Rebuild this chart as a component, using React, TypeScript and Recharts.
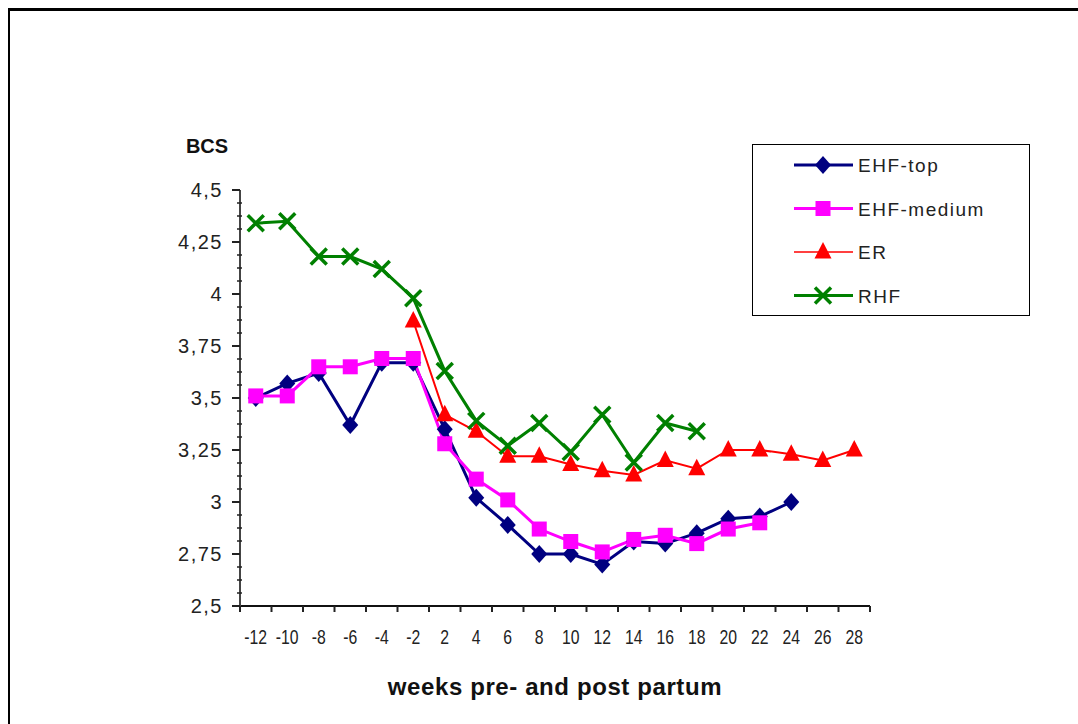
import React from 'react';
import { LineChart, Line, XAxis, YAxis, Legend } from 'recharts';

// weeks before / after calving (no week 0)
const weeks = ['-12', '-10', '-8', '-6', '-4', '-2', '2', '4', '6', '8', '10', '12', '14', '16', '18', '20', '22', '24', '26', '28'];

const ehfTop = [3.5, 3.57, 3.62, 3.37, 3.67, 3.67, 3.35, 3.02, 2.89, 2.75, 2.75, 2.7, 2.81, 2.8, 2.85, 2.92, 2.93, 3.0, null, null];
const ehfMedium = [3.51, 3.51, 3.65, 3.65, 3.69, 3.69, 3.28, 3.11, 3.01, 2.87, 2.81, 2.76, 2.82, 2.84, 2.8, 2.87, 2.9, null, null, null];
const er = [null, null, null, null, null, 3.87, 3.42, 3.34, 3.22, 3.22, 3.18, 3.15, 3.13, 3.2, 3.16, 3.25, 3.25, 3.23, 3.2, 3.25];
const rhf = [4.34, 4.35, 4.18, 4.18, 4.12, 3.98, 3.63, 3.39, 3.27, 3.38, 3.24, 3.42, 3.19, 3.38, 3.34, null, null, null, null, null];

const yMajorTicks = [2.5, 2.75, 3, 3.25, 3.5, 3.75, 4, 4.25, 4.5];
// minor ticks: 4 per major step
const yTicks: number[] = [];
yMajorTicks.forEach((t, i) => {
  yTicks.push(t);
  if (i < yMajorTicks.length - 1) {
    for (let k = 1; k < 4; k++) yTicks.push(t + k * 0.0625);
  }
});

const data = weeks.map((week, i) => ({
  week,
  ehfTop: ehfTop[i],
  ehfMedium: ehfMedium[i],
  er: er[i],
  rhf: rhf[i],
}));

const NAVY = '#000080';
const MAGENTA = '#FF00FF';
const RED = '#FF0000';
const GREEN = '#008000';
const FONT = "'Liberation Sans', Arial, sans-serif";

const CHART_W = 1068;
const CHART_H = 713;
const MARGIN = { top: 179, right: 208, bottom: 88, left: 170 };
const Y_AXIS_W = 60;
const X_AXIS_H = 30;
const PLOT_LEFT = MARGIN.left + Y_AXIS_W;
const PLOT_RIGHT = CHART_W - MARGIN.right;
const PLOT_BOTTOM = CHART_H - MARGIN.bottom - X_AXIS_H;
const HALF_BAND = (PLOT_RIGHT - PLOT_LEFT) / weeks.length / 2;

type ShapeProps = { cx: number; cy: number; color: string };

const Diamond = ({ cx, cy, color }: ShapeProps) => (
  <polygon
    points={`${cx},${cy - 9} ${cx + 8},${cy} ${cx},${cy + 9} ${cx - 8},${cy}`}
    fill={color}
  />
);

const Square = ({ cx, cy, color }: ShapeProps) => (
  <rect x={cx - 7.5} y={cy - 7.5} width={15} height={15} fill={color} />
);

const Triangle = ({ cx, cy, color }: ShapeProps) => (
  <polygon
    points={`${cx},${cy - 10} ${cx + 8.5},${cy + 6.5} ${cx - 8.5},${cy + 6.5}`}
    fill={color}
  />
);

const Cross = ({ cx, cy, color }: ShapeProps) => (
  <path
    d={`M${cx - 8},${cy - 8}L${cx + 8},${cy + 8}M${cx + 8},${cy - 8}L${cx - 8},${cy + 8}`}
    stroke={color}
    strokeWidth={3.5}
    fill="none"
  />
);

const makeDot = (Shape: (p: ShapeProps) => React.ReactElement, color: string) =>
  (props: any) => {
    const { cx, cy, index } = props;
    if (cx == null || cy == null || Number.isNaN(cy)) return <g key={`e-${index}`} />;
    return (
      <g key={`d-${index}`}>
        <Shape cx={cx} cy={cy} color={color} />
      </g>
    );
  };

const legendItems = [
  { name: 'EHF-top', color: NAVY, Shape: Diamond, width: 3 },
  { name: 'EHF-medium', color: MAGENTA, Shape: Square, width: 3 },
  { name: 'ER', color: RED, Shape: Triangle, width: 1.5 },
  { name: 'RHF', color: GREEN, Shape: Cross, width: 3 },
];

function LegendBox() {
  return (
    <div
      style={{
        width: 278,
        height: 172,
        border: '1.5px solid #000',
        boxSizing: 'border-box',
        background: '#fff',
      }}
    >
      <svg width={275} height={169} style={{ display: 'block' }}>
        {legendItems.map((it, i) => {
          const cy = 20 + i * 43.5;
          const Shape = it.Shape;
          return (
            <g key={it.name}>
              <line x1={41} x2={100} y1={cy} y2={cy} stroke={it.color} strokeWidth={it.width} />
              <Shape cx={70} cy={cy} color={it.color} />
              <text x={105} y={cy + 7} fontSize={19} letterSpacing={1.5} fill="#222" fontFamily={FONT}>
                {it.name}
              </text>
            </g>
          );
        })}
      </svg>
    </div>
  );
}

function XTick(props: any) {
  const { x, payload, index } = props;
  return (
    <g>
      <line x1={x - HALF_BAND} x2={x - HALF_BAND} y1={PLOT_BOTTOM} y2={PLOT_BOTTOM + 6} stroke="#222" strokeWidth={2} />
      {index === weeks.length - 1 && (
        <line x1={x + HALF_BAND} x2={x + HALF_BAND} y1={PLOT_BOTTOM} y2={PLOT_BOTTOM + 6} stroke="#222" strokeWidth={2} />
      )}
      <text
        transform={`translate(${x},${PLOT_BOTTOM + 38}) scale(0.75,1)`}
        textAnchor="middle"
        fontSize={21}
        fill="#222"
        fontFamily={FONT}
      >
        {payload.value}
      </text>
    </g>
  );
}

function YTick(props: any) {
  const { y, payload } = props;
  const v = payload.value as number;
  const major = Math.abs(v * 4 - Math.round(v * 4)) < 1e-6;
  if (!major) {
    return <line x1={PLOT_LEFT - 3} x2={PLOT_LEFT + 2} y1={y} y2={y} stroke="#222" strokeWidth={1.5} />;
  }
  return (
    <g>
      <line x1={PLOT_LEFT - 8} x2={PLOT_LEFT} y1={y} y2={y} stroke="#222" strokeWidth={2} />
      <text x={PLOT_LEFT - 17} y={y + 7} textAnchor="end" fontSize={20} letterSpacing={1.5} fill="#222" fontFamily={FONT}>
        {String(v).replace('.', ',')}
      </text>
    </g>
  );
}

export default function App() {
  return (
    <div
      style={{
        position: 'fixed',
        left: 8,
        top: 8,
        width: 1070,
        height: 716,
        borderTop: '3px solid #000',
        borderLeft: '2px solid #000',
        boxSizing: 'border-box',
        background: '#fff',
      }}
    >
      <LineChart width={CHART_W} height={CHART_H} data={data} margin={MARGIN}>
        <XAxis
          dataKey="week"
          height={X_AXIS_H}
          interval={0}
          padding={{ left: HALF_BAND, right: HALF_BAND }}
          axisLine={{ stroke: '#111', strokeWidth: 2 }}
          tickLine={false}
          tick={<XTick />}
          label={{
            value: 'weeks pre- and post partum',
            position: 'bottom',
            offset: 42,
            fontSize: 24,
            fontWeight: 'bold',
            letterSpacing: 0.6,
            fill: '#111',
            fontFamily: FONT,
          }}
        />
        <YAxis
          width={Y_AXIS_W}
          domain={[2.5, 4.5]}
          ticks={yTicks}
          interval={0}
          allowDataOverflow
          axisLine={{ stroke: '#444', strokeWidth: 2 }}
          tickLine={false}
          tick={<YTick />}
          label={{
            value: 'BCS',
            position: 'top',
            offset: 37,
            dx: -3,
            fontSize: 20,
            fontWeight: 'bold',
            fill: '#111',
            fontFamily: FONT,
          }}
        />
        <Legend
          layout="vertical"
          align="center"
          verticalAlign="middle"
          content={() => <LegendBox />}
          wrapperStyle={{ left: 742, top: 133, width: 278, height: 172 }}
        />
        <Line dataKey="ehfTop" name="EHF-top" stroke={NAVY} strokeWidth={3} dot={makeDot(Diamond, NAVY)} activeDot={false} isAnimationActive={false} />
        <Line dataKey="ehfMedium" name="EHF-medium" stroke={MAGENTA} strokeWidth={3} dot={makeDot(Square, MAGENTA)} activeDot={false} isAnimationActive={false} />
        <Line dataKey="er" name="ER" stroke={RED} strokeWidth={2} dot={makeDot(Triangle, RED)} activeDot={false} isAnimationActive={false} />
        <Line dataKey="rhf" name="RHF" stroke={GREEN} strokeWidth={3} dot={makeDot(Cross, GREEN)} activeDot={false} isAnimationActive={false} />
      </LineChart>
    </div>
  );
}
